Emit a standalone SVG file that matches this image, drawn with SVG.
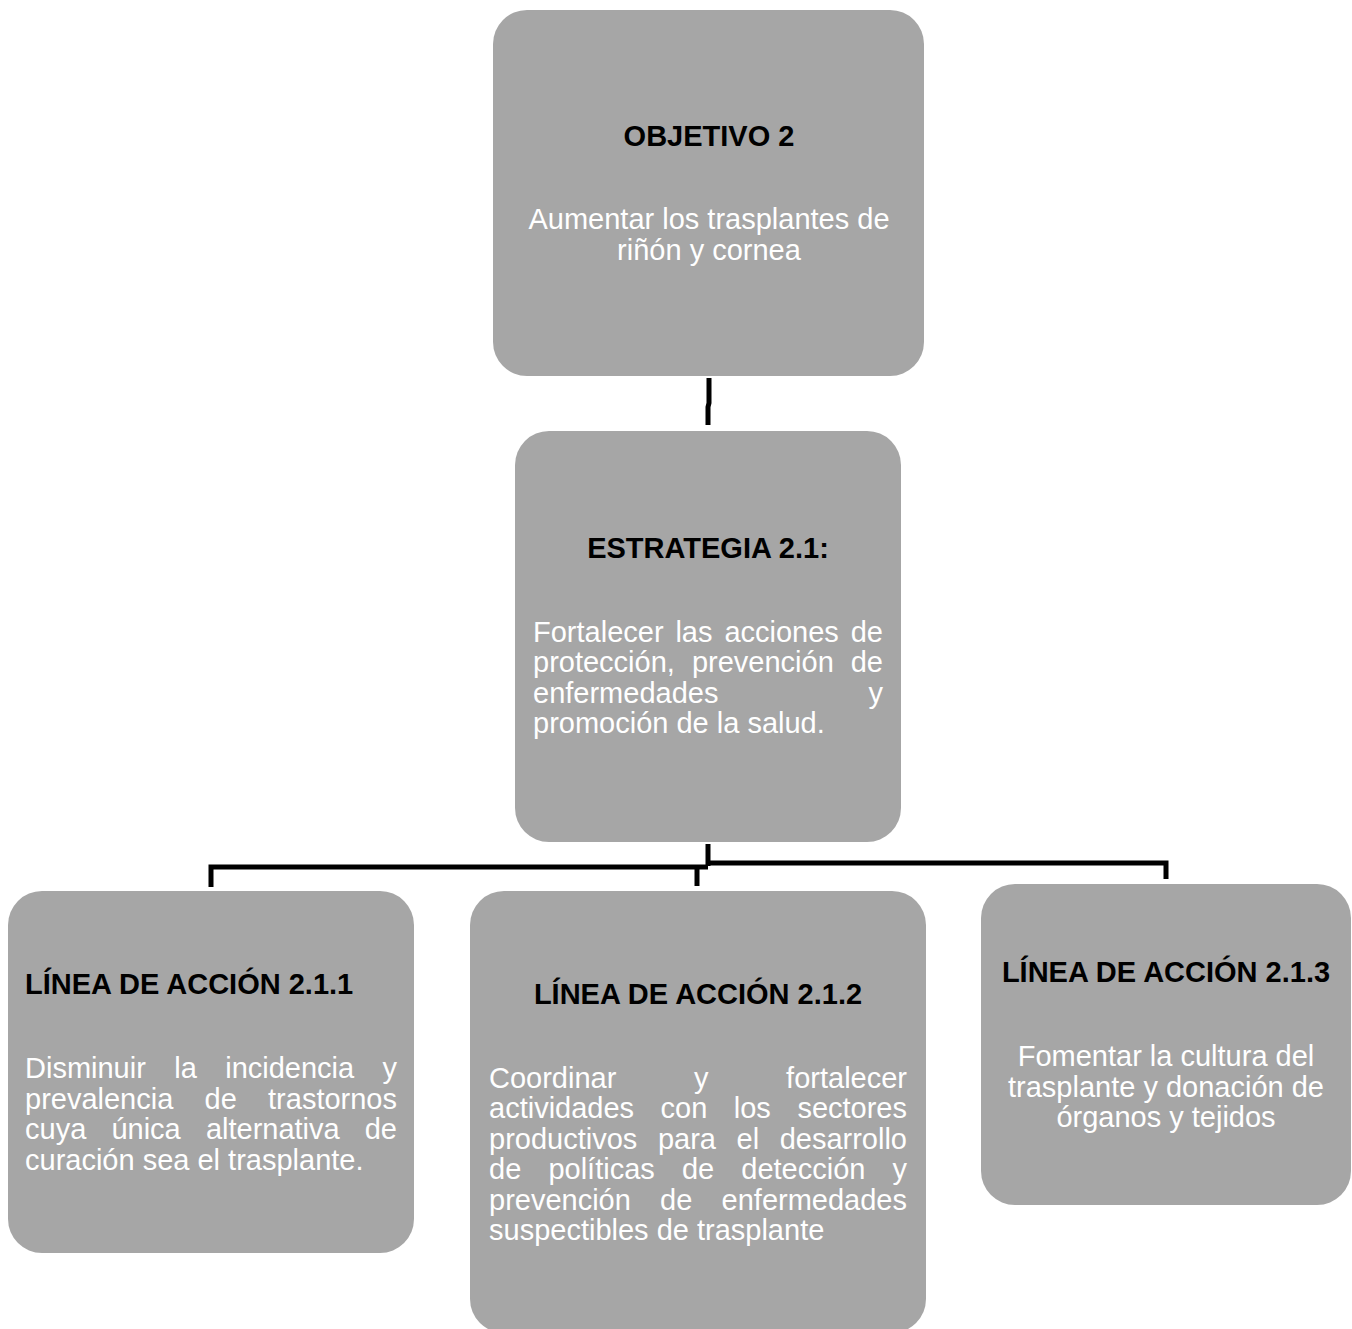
<svg xmlns="http://www.w3.org/2000/svg" width="1352" height="1329" viewBox="0 0 1352 1329">
<style>
.box{fill:#a6a6a6;}
.h{font-family:"Liberation Sans",Arial,sans-serif;font-size:29px;font-weight:bold;fill:#000;}
.b{font-family:"Liberation Sans",Arial,sans-serif;font-size:29px;fill:#fff;}
.c{text-anchor:middle;}
.e{text-anchor:end;}
.conn{fill:none;stroke:#000;stroke-width:5;stroke-linejoin:miter;}
</style>
<rect width="1352" height="1329" fill="#fff"/>
<g id="connectors">
<path class="conn" d="M709,378 V403 L708,407 V425"/>
<path class="conn" d="M708,844 V866"/>
<path class="conn" d="M211,887 V867 H708"/>
<path class="conn" d="M697,867 V886"/>
<path class="conn" d="M708,863 H1166 V879"/>
</g>
<g id="objetivo">
<rect class="box" x="493" y="10" width="431" height="366" rx="34"/>
<text class="h c" x="709" y="145.5">OBJETIVO 2</text>
<text class="b c" x="709" y="229">Aumentar los trasplantes de</text>
<text class="b c" x="709" y="259.5">riñón y cornea</text>
</g>
<g id="estrategia">
<rect class="box" x="515" y="431" width="386" height="411" rx="34"/>
<text class="h c" x="708" y="558">ESTRATEGIA 2.1:</text>
<text class="b" y="642"><tspan x="533">Fortalecer</tspan><tspan x="675.4">las</tspan><tspan x="724.4">acciones</tspan></text>
<text class="b e" x="883" y="642">de</text>
<text class="b" y="672.3"><tspan x="533">protección,</tspan><tspan x="691.9">prevención</tspan></text>
<text class="b e" x="883" y="672.3">de</text>
<text class="b" x="533" y="702.6">enfermedades</text>
<text class="b e" x="883" y="702.6">y</text>
<text class="b" x="533" y="733">promoción de la salud.</text>
</g>
<g id="linea1">
<rect class="box" x="8" y="891" width="406" height="362" rx="34"/>
<text class="h" x="25" y="994">LÍNEA DE ACCIÓN 2.1.1</text>
<text class="b" y="1078"><tspan x="25">Disminuir</tspan><tspan x="174.2">la</tspan><tspan x="225.2">incidencia</tspan></text>
<text class="b e" x="397" y="1078">y</text>
<text class="b" y="1108.5"><tspan x="25">prevalencia</tspan><tspan x="204.6">de</tspan></text>
<text class="b e" x="397" y="1108.5">trastornos</text>
<text class="b" y="1139"><tspan x="25">cuya</tspan><tspan x="111.4">única</tspan><tspan x="205.9">alternativa</tspan></text>
<text class="b e" x="397" y="1139">de</text>
<text class="b" x="25" y="1169.5">curación sea el trasplante.</text>
</g>
<g id="linea2">
<rect class="box" x="470" y="891" width="456" height="442" rx="34"/>
<text class="h c" x="698" y="1004">LÍNEA DE ACCIÓN 2.1.2</text>
<text class="b" y="1088"><tspan x="489">Coordinar</tspan><tspan x="694">y</tspan></text>
<text class="b e" x="907" y="1088">fortalecer</text>
<text class="b" y="1118.4"><tspan x="489">actividades</tspan><tspan x="660.6">con</tspan><tspan x="733.8">los</tspan></text>
<text class="b e" x="907" y="1118.4">sectores</text>
<text class="b" y="1148.8"><tspan x="489">productivos</tspan><tspan x="657.9">para</tspan><tspan x="736.5">el</tspan></text>
<text class="b e" x="907" y="1148.8">desarrollo</text>
<text class="b" y="1179.2"><tspan x="489">de</tspan><tspan x="548.4">políticas</tspan><tspan x="681.9">de</tspan><tspan x="741.3">detección</tspan></text>
<text class="b e" x="907" y="1179.2">y</text>
<text class="b" y="1209.6"><tspan x="489">prevención</tspan><tspan x="660.1">de</tspan></text>
<text class="b e" x="907" y="1209.6">enfermedades</text>
<text class="b" x="489" y="1240">suspectibles de trasplante</text>
</g>
<g id="linea3">
<rect class="box" x="981" y="884" width="370" height="321" rx="34"/>
<text class="h c" x="1166" y="982">LÍNEA DE ACCIÓN 2.1.3</text>
<text class="b c" x="1166" y="1066">Fomentar la cultura del</text>
<text class="b c" x="1166" y="1096.5">trasplante y donación de</text>
<text class="b c" x="1166" y="1127">órganos y tejidos</text>
</g>
</svg>
